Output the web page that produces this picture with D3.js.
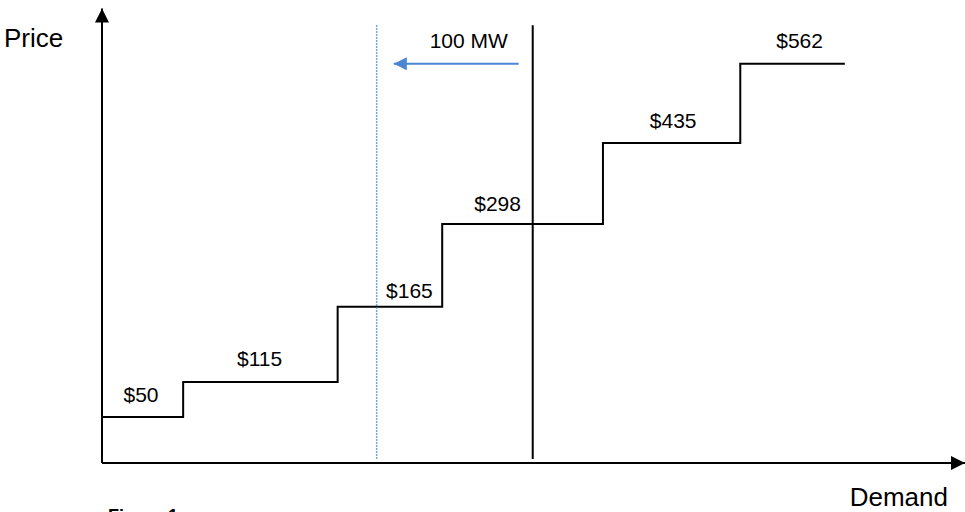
<!DOCTYPE html>
<html><head><meta charset="utf-8">
<script src="https://cdn.jsdelivr.net/npm/d3@7"></script>
<style>html,body{margin:0;padding:0;background:#fff;overflow:hidden;}svg{display:block;font-family:Arial,"Liberation Sans",sans-serif;}</style>
</head><body>
<script>
// Supply curve steps (demand in MW, price level in chart units)
const stepStart = [0, 52, 151, 218, 321, 409];
const stepEnd   = [52, 151, 218, 321, 409, 476];
const stepLevel = [10.2, 18.0, 34.7, 53.1, 71.1, 88.7];
const priceLabels = ["$50", "$115", "$165", "$298", "$435", "$562"];
const labelDemand = [25, 101, 197, 253.5, 366, 447];
const labelLevel  = [13.6, 21.6, 36.7, 56.0, 74.4, 92.2];
const demandLine = 276;
const shiftMW = 100;
const shiftedLine = demandLine - shiftMW;
const arrowFrom = 267;
const arrowTo = 187;
const shiftLabel = "100 MW";
const shiftLabelDemand = 235;

const W = 965, H = 512;
const svg = d3.select("body").append("svg").attr("width", W).attr("height", H);
const x = d3.scaleLinear().domain([0, 553]).range([102, 965]);
const y = d3.scaleLinear().domain([0, 100]).range([463, 13]);

const defs = svg.append("defs");
defs.append("marker").attr("id","ah").attr("viewBox","0 0 10 10").attr("refX",10).attr("refY",5)
  .attr("markerWidth",16).attr("markerHeight",14).attr("markerUnits","userSpaceOnUse").attr("orient","auto")
  .append("path").attr("d","M0,0L10,5L0,10Z").attr("fill","#000");
defs.append("marker").attr("id","bh").attr("viewBox","0 0 10 10").attr("refX",10).attr("refY",5)
  .attr("markerWidth",15).attr("markerHeight",13).attr("markerUnits","userSpaceOnUse").attr("orient","auto")
  .append("path").attr("d","M0,0L10,5L0,10Z").attr("fill","#4a86d4");

// axes
svg.append("line").attr("x1", x(0)).attr("y1", y(0)).attr("x2", x(0)).attr("y2", y(101))
  .attr("stroke","#000").attr("stroke-width",2).attr("marker-end","url(#ah)");
svg.append("line").attr("x1", x(0)).attr("y1", y(0)).attr("x2", x(553)).attr("y2", y(0))
  .attr("stroke","#000").attr("stroke-width",2).attr("marker-end","url(#ah)");

// step curve
const pts = [];
stepStart.forEach((s,i)=>{ pts.push([s, stepLevel[i]]); pts.push([stepEnd[i], stepLevel[i]]); });
svg.append("path").attr("d", d3.line().x(d=>x(d[0])).y(d=>y(d[1]))(pts))
  .attr("fill","none").attr("stroke","#000").attr("stroke-width",2);

// price labels
svg.selectAll("text.pl").data(priceLabels).join("text").attr("class","pl")
  .attr("x",(d,i)=>x(labelDemand[i])).attr("y",(d,i)=>y(labelLevel[i]))
  .attr("text-anchor","middle").attr("font-size",21).attr("fill","#000").text(d=>d);

// demand line and shifted line
svg.append("line").attr("x1",x(demandLine)).attr("x2",x(demandLine)).attr("y1",y(97.3)).attr("y2",y(0.9))
  .attr("stroke","#000").attr("stroke-width",2);
svg.append("line").attr("x1",x(shiftedLine)).attr("x2",x(shiftedLine)).attr("y1",y(97.3)).attr("y2",y(0.6))
  .attr("stroke","#4a86d4").attr("stroke-width",1.5).attr("stroke-dasharray","1.5,1.5");

// shift arrow
svg.append("line").attr("x1",x(arrowFrom)).attr("x2",x(arrowTo)).attr("y1",y(88.7)).attr("y2",y(88.7))
  .attr("stroke","#4a86d4").attr("stroke-width",2).attr("marker-end","url(#bh)");
svg.append("text").attr("x",x(shiftLabelDemand)).attr("y",y(92.2)).attr("text-anchor","middle")
  .attr("font-size",21).text(shiftLabel);

// axis titles
svg.append("text").attr("x",4).attr("y",47).attr("font-size",26).text("Price");
svg.append("text").attr("x",948).attr("y",506).attr("text-anchor","end").attr("font-size",26).text("Demand");
svg.append("text").attr("x",108).attr("y",522).attr("font-size",18).attr("font-weight","bold").text("Figure 1");
</script>
</body></html>
